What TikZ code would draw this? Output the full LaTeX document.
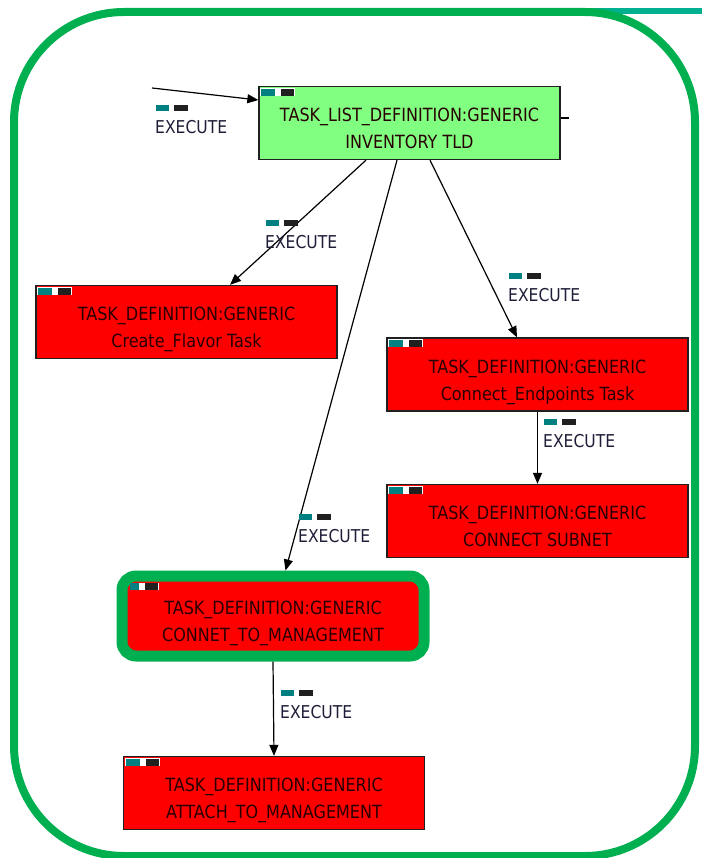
\documentclass[tikz,border=0pt]{standalone}
\usepackage{fontspec}
\newfontfamily\diafont[FakeStretch=0.88]{DejaVu Sans}
\usetikzlibrary{arrows.meta,calc}
\definecolor{framegreen}{HTML}{00B050}
\definecolor{topteal}{HTML}{00B090}
\definecolor{taskred}{HTML}{FF0000}
\definecolor{listgreen}{HTML}{80FF80}
\definecolor{boxline}{HTML}{202020}
\definecolor{nodetext}{HTML}{280000}
\definecolor{lbltext}{HTML}{1E1E38}
\definecolor{iconteal}{HTML}{008080}
\definecolor{iconblack}{HTML}{202020}

% small two-colour tag in the top-left corner of a node
\newcommand\nodetag[1]{%
  \fill[white] ($(#1.north west)+(2,2)$) rectangle ($(#1.north west)+(37,10)$);
  \fill[iconteal] ($(#1.north west)+(3,3)$) rectangle ($(#1.north west)+(17,10)$);
  \fill[iconblack] ($(#1.north west)+(23,3)$) rectangle ($(#1.north west)+(36,10)$);
}
% EXECUTE label with its tag above
\newcommand\execlabel[3]{%
  \node[lbl, anchor=west] (#1) at (#2,#3) {EXECUTE};
  \fill[iconteal] ($(#1.west)+(1,-22)$) rectangle ($(#1.west)+(14,-16)$);
  \fill[iconblack] ($(#1.west)+(19,-22)$) rectangle ($(#1.west)+(33,-16)$);
}

\begin{document}
\begin{tikzpicture}[x=1pt,y=-1pt,
  task/.style={draw=boxline, line width=1.3pt, fill=taskred,
    minimum width=301pt, minimum height=73pt, inner sep=0pt, align=center,
    font=\diafont\fontsize{18.2}{27}\selectfont, text=nodetext,
    text height=60pt, text depth=8.6pt},
  tasklist/.style={task, fill=listgreen},
  current/.style={task, draw=framegreen, line width=11pt, rounded corners=14pt,
    minimum width=302pt, minimum height=80pt},
  lbl/.style={inner sep=0pt, font=\diafont\fontsize{17.7}{20}\selectfont, text=lbltext},
  conn/.style={draw=black, line width=1.2pt, -{Triangle[length=11pt,width=9pt]}}
]
\useasboundingbox (0,0) rectangle (702,858);

% outer frame
\draw[topteal, line width=6pt] (560,11) -- (702,11);
\draw[framegreen, line width=8pt, rounded corners=110pt] (14,12) rectangle (695,856);

% nodes
\node[tasklist] (tld) at (409.5,123) {TASK\_LIST\_DEFINITION:GENERIC\\INVENTORY TLD};
\node[task] (flavor) at (186.5,322) {TASK\_DEFINITION:GENERIC\\Create\_Flavor Task};
\node[task] (endpoints) at (537.5,374.5) {TASK\_DEFINITION:GENERIC\\Connect\_Endpoints Task};
\node[task] (subnet) at (537.5,521) {TASK\_DEFINITION:GENERIC\\CONNECT SUBNET};
\node[current] (mgmt) at (273,616) {TASK\_DEFINITION:GENERIC\\CONNET\_TO\_MANAGEMENT};
\node[task] (attach) at (274,793) {TASK\_DEFINITION:GENERIC\\ATTACH\_TO\_MANAGEMENT};

\nodetag{tld}
\nodetag{flavor}
\nodetag{endpoints}
\nodetag{subnet}
\nodetag{attach}
\fill[white] ($(mgmt.north west)+(13,12)$) rectangle ($(mgmt.north west)+(42,19.5)$);
\fill[iconteal] ($(mgmt.north west)+(13.5,12.5)$) rectangle ($(mgmt.north west)+(22.5,19.5)$);
\fill[iconblack] ($(mgmt.north west)+(28.5,12.5)$) rectangle ($(mgmt.north west)+(41.5,19.5)$);

% connectors
\coordinate (src) at (152,88);
\draw[conn] (src) -- ([yshift=23pt]tld.west);
\draw[line width=1.2pt] ([yshift=5pt]tld.east) -- ++(8,0);
\draw[conn] ([xshift=-43.5pt]tld.south) -- ([xshift=43.5pt]flavor.north);
\draw[conn] ([xshift=-12.5pt]tld.south) -- ([xshift=12.5pt]mgmt.north);
\draw[conn] ([xshift=20.5pt]tld.south) -- ([xshift=-20.5pt]endpoints.north);
\draw[conn] (endpoints.south) -- (subnet.north);
\draw[conn] (mgmt.south) -- (attach.north);

% edge labels
\execlabel{l0}{155}{127}
\execlabel{l1}{265}{242}
\execlabel{l2}{508}{295}
\execlabel{l3}{298}{536}
\execlabel{l4}{543}{441}
\execlabel{l5}{280}{712}
\end{tikzpicture}
\end{document}
